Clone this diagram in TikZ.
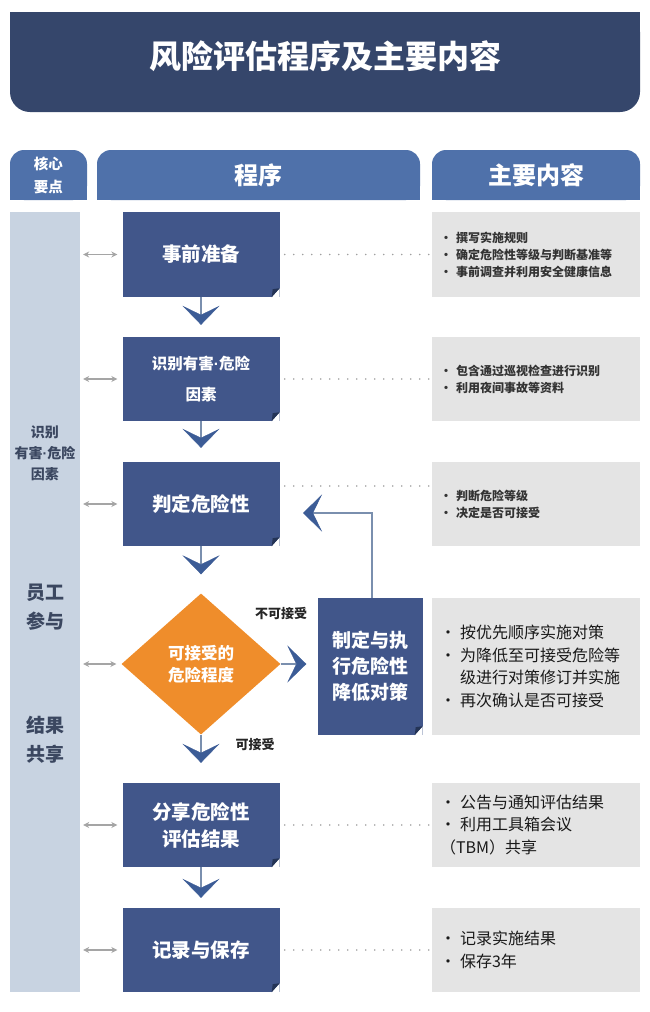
\documentclass[tikz,border=0pt]{standalone}
\usepackage{fontspec}
\setmainfont{Noto Sans CJK SC}
\newfontfamily\latinfont{Liberation Sans}
\usetikzlibrary{arrows.meta,shapes.geometric}

\definecolor{titlenavy}{HTML}{35466B}
\definecolor{headblue}{HTML}{4F71AA}
\definecolor{procblue}{HTML}{41568A}
\definecolor{folddark}{HTML}{243456}
\definecolor{sidegrey}{HTML}{C8D3E1}
\definecolor{sidetext}{HTML}{3B4760}
\definecolor{infogrey}{HTML}{E4E4E4}
\definecolor{chkorange}{HTML}{EF8D2B}
\definecolor{flowgrey}{HTML}{7A8FAE}
\definecolor{arrowblue}{HTML}{3C5C96}
\definecolor{dotgrey}{HTML}{A0A0A0}
\definecolor{linkgrey}{HTML}{A5A5A5}

% folded lower right corner of a step box
\newcommand{\foldcorner}[1]{%
  \fill[white] ([xshift=-8pt]#1.south east) -- (#1.south east) -- ([yshift=9pt]#1.south east) -- cycle;
  \fill[folddark] ([xshift=-8pt]#1.south east) -- ([yshift=9pt]#1.south east) -- ([xshift=-7pt,yshift=8pt]#1.south east) -- cycle;}
\newcommand{\dotsep}{{\latinfont ·}}
\newcommand{\itm}{\textbullet\hspace{4pt}}

\begin{document}
\begin{tikzpicture}[x=1pt,y=-1pt,
    procbox/.style={fill=procblue, text=white, minimum width=157pt, minimum height=85pt,
      align=center, inner sep=0pt, font=\bfseries\fontsize{19.5}{27}\selectfont},
    infobox/.style={fill=infogrey, text=black!80, text width=192pt, inner xsep=8pt,
      inner ysep=0pt, minimum height=85pt, align=left, font=\bfseries\fontsize{12}{17}\selectfont},
    bigtext/.style={text=black!90, font=\fontsize{16}{22.5}\selectfont},
    headtext/.style={text=white, font=\bfseries\fontsize{24}{28}\selectfont},
    sidelabel/.style={text=sidetext, align=center, font=\bfseries\fontsize{19}{29}\selectfont},
    flow/.style={draw=flowgrey, line width=1.6pt,
      -{Stealth[length=19pt, width=37pt, inset=9pt, color=arrowblue, line width=0.4pt]}},
    link/.style={draw=linkgrey, line width=1.4pt, shorten <=3pt, shorten >=5pt,
      {Stealth[length=6pt, width=6pt]}-{Stealth[length=6pt, width=6pt]}},
    dots/.style={draw=dotgrey, line width=1.8pt, line cap=round,
      dash pattern=on 0pt off 9pt, shorten <=5pt, shorten >=2pt},
    note/.style={text=black!85, font=\bfseries\fontsize{13}{16}\selectfont}]
  \useasboundingbox (0,0) rectangle (650,1012);

  % title banner, square top and round bottom
  \fill[titlenavy, rounded corners=20pt] (10,12) rectangle (640,112);
  \fill[titlenavy] (10,12) rectangle (640,60);
  \node[text=white, font=\bfseries\fontsize{32}{36}\selectfont] (title) at (325,56) {风险评估程序及主要内容};

  % column heads
  \fill[headblue, rounded corners=14pt] (10,150) rectangle (87,200);
  \fill[headblue] (10,176) rectangle (87,200);
  \fill[headblue, rounded corners=14pt] (97,150) rectangle (420,200);
  \fill[headblue] (97,176) rectangle (420,200);
  \fill[headblue, rounded corners=14pt] (432,150) rectangle (640,200);
  \fill[headblue] (432,176) rectangle (640,200);
  \node[text=white, align=center, font=\bfseries\fontsize{14.5}{23}\selectfont] (keyhead) at (48.5,175) {核心\\要点};
  \node[headtext] (prochead) at (258.5,175) {程序};
  \node[headtext] (infohead) at (536,175) {主要内容};

  % side column
  \node[fill=sidegrey, minimum width=70pt, minimum height=780pt, inner sep=0pt] (side) at (45,602) {};
  \node[text=sidetext, align=center, font=\bfseries\fontsize{14}{21}\selectfont] (sideid) at (45,453) {识别\\有害\dotsep 危险\\因素};
  \node[sidelabel] (sidejoin) at (45,607) {员工\\参与};
  \node[sidelabel] (sideshare) at (45,740) {结果\\共享};

  % steps
  \node[procbox] (prep) at (201,254.5) {事前准备};
  \node[procbox, minimum height=84pt, font=\bfseries\fontsize{15.5}{31}\selectfont] (ident) at (201,379) {识别有害\dotsep 危险\\因素};
  \node[procbox, minimum height=84pt] (judge) at (201,504) {判定危险性};
  \node[diamond, fill=chkorange, text=white, minimum width=159pt, minimum height=141pt, inner sep=0pt,
    align=center, font=\bfseries\fontsize{16.5}{22}\selectfont] (accept) at (201,664) {可接受的\\危险程度};
  \node[procbox, minimum width=105pt, minimum height=137pt, font=\bfseries\fontsize{19}{26}\selectfont] (reduce) at (370,666.5) {制定与执\\行危险性\\降低对策};
  \node[procbox, minimum height=84pt] (share) at (201,825) {分享危险性\\评估结果};
  \node[procbox, minimum height=84pt] (keep) at (201,950) {记录与保存};
  \foreach \b in {prep,ident,judge,reduce,share,keep} {\foldcorner{\b}}

  % main contents
  \node[infobox] (info1) at (536,254.5) {\itm 撰写实施规则\\\itm 确定危险性等级与判断基准等\\\itm 事前调查并利用安全健康信息};
  \node[infobox, minimum height=84pt] (info2) at (536,379) {\itm 包含通过巡视检查进行识别\\\itm 利用夜间事故等资料};
  \node[infobox, minimum height=84pt] (info3) at (536,504) {\itm 判断危险等级\\\itm 决定是否可接受};
  \node[infobox, bigtext, minimum height=137pt] (info4) at (536,666.5) {\itm 按优先顺序实施对策\\\itm 为降低至可接受危险等\\\phantom{\itm}级进行对策修订并实施\\\itm 再次确认是否可接受};
  \node[infobox, bigtext, minimum height=84pt] (info5) at (536,825) {\itm 公告与通知评估结果\\\itm 利用工具箱会议\\（TBM）共享};
  \node[infobox, bigtext, minimum height=84pt] (info6) at (536,950) {\itm 记录实施结果\\\itm 保存3年};

  % flow
  \draw[flow, shorten >=12pt] (prep.south) -- (ident.north);
  \draw[flow, shorten >=14pt] (ident.south) -- (judge.north);
  \draw[flow, shorten >=19pt] (judge.south) -- (accept.north);
  \draw[flow, shorten >=20pt] (accept.south) -- (share.north);
  \draw[flow, shorten >=10pt] (share.south) -- (keep.north);
  \draw[flow, shorten >=11pt] (accept.east) -- (accept.east -| reduce.west);
  \coordinate (back) at (303,513);
  \draw[flow] ([xshift=2pt]reduce.north) |- (back);
  \node[note] (nolabel) at (281,614) {不可接受};
  \node[note] (yeslabel) at (255,745) {可接受};

  % side links
  \foreach \b in {prep,ident,judge,accept,share,keep}
    \draw[link] (\b.west -| side.east) -- (\b.west);

  % dotted leaders
  \draw[dots] (prep.east) -- (info1.west);
  \draw[dots] (ident.east) -- (info2.west);
  \draw[dots] ([yshift=18pt]judge.east) -- ([yshift=18pt]judge.east -| info3.west);
  \draw[dots] (share.east) -- (info5.west);
  \draw[dots] (keep.east) -- (info6.west);
\end{tikzpicture}
\end{document}
